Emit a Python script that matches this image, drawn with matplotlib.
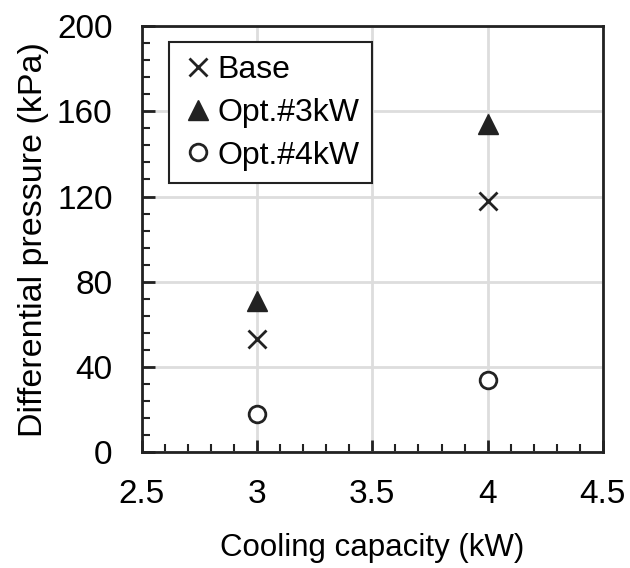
import matplotlib.pyplot as plt
from matplotlib.ticker import MultipleLocator

plt.rcParams['font.family'] = ['Liberation Sans', 'DejaVu Sans']

capacity = [3, 4]
base = [53, 118]
opt3 = [71, 154]
opt4 = [18, 34]

fig = plt.figure(figsize=(6.3, 5.68), dpi=100)
ax = fig.add_axes([0.225, 0.204, 0.732, 0.750])

ax.plot(capacity, base, 'x', color='#222222', ms=13, mew=2, label='Base', zorder=3)
ax.plot(capacity, opt3, '^', color='#222222', ms=14, label='Opt.#3kW', zorder=3)
ax.plot(capacity, opt4, 'o', mfc='white', mec='#222222', ms=12, mew=2, label='Opt.#4kW', zorder=3)

ax.set_xlim(2.5, 4.5)
ax.set_ylim(0, 200)
ax.xaxis.set_major_locator(MultipleLocator(0.5))
ax.xaxis.set_minor_locator(MultipleLocator(0.1))
ax.yaxis.set_major_locator(MultipleLocator(40))
ax.yaxis.set_minor_locator(MultipleLocator(8))
ax.set_xticks([2.5, 3, 3.5, 4, 4.5])
ax.set_xticklabels(['2.5', '3', '3.5', '4', '4.5'])

ax.grid(True, which='major', color='#dddddd', lw=2)
ax.set_axisbelow(True)
ax.tick_params(which='major', direction='in', length=9, width=2, labelsize=24, color='#222222')
ax.tick_params(axis='x', which='major', pad=19)
ax.tick_params(axis='y', which='major', pad=21)
ax.tick_params(which='minor', direction='in', length=6, width=1.5, color='#222222')
for s in ax.spines.values():
    s.set_linewidth(2)
    s.set_color('#222222')

ax.set_xlabel('Cooling capacity (kW)', fontsize=22.5, labelpad=17)
ax.set_ylabel('Differential pressure (kPa)', fontsize=24.5, labelpad=6)

leg = ax.legend(loc='upper left', bbox_to_anchor=(0.06, 0.962), fontsize=23, fancybox=False,
                framealpha=1, edgecolor='#222222', handletextpad=0.1, handlelength=1.0,
                borderpad=0.4, labelspacing=0.4, borderaxespad=0)
leg.get_frame().set_linewidth(1.5)

fig.savefig('out.png', dpi=100)
